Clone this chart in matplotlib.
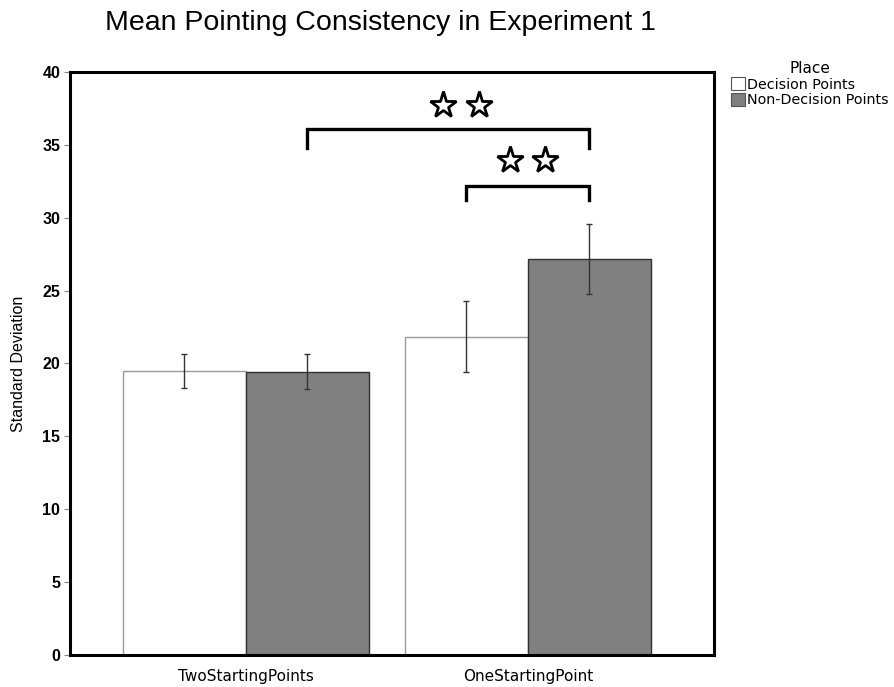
import matplotlib
matplotlib.use('Agg')
from matplotlib import pyplot as plt
from matplotlib.patches import Patch

categories = ['TwoStartingPoints', 'OneStartingPoint']
places = ['Decision Points', 'Non-Decision Points']
decision = [19.5, 21.85]
decision_err = [1.17, 2.42]
non_decision = [19.45, 27.15]
non_decision_err = [1.2, 2.4]
yticks = [0, 5, 10, 15, 20, 25, 30, 35, 40]

fig = plt.figure(figsize=(8.94, 6.87), dpi=100)
ax = fig.add_axes([0.0783, 0.0466, 0.7204, 0.8486])

w = 0.436
x = [0, 1]
x1 = [i - w / 2 for i in x]
x2 = [i + w / 2 for i in x]
ax.bar(x1, decision, width=w, color='white', edgecolor='#9a9a9a', linewidth=1.0, zorder=2)
ax.bar(x2, non_decision, width=w, color='#808080', edgecolor='#303030', linewidth=1.0, zorder=2)
ax.errorbar(x1, decision, yerr=decision_err, fmt='none', ecolor='#333333',
            elinewidth=1.0, capsize=2.5, capthick=1.0, zorder=3)
ax.errorbar(x2, non_decision, yerr=non_decision_err, fmt='none', ecolor='#333333',
            elinewidth=1.0, capsize=2.5, capthick=1.0, zorder=3)

ax.set_xlim(-0.624, 1.660)
ax.set_ylim(0, 40)
ax.set_yticks(yticks)
ax.set_yticklabels([str(t) for t in yticks], fontweight='bold', fontsize=11.5,
                   family='Liberation Sans')
ax.tick_params(axis='y', length=4, width=0.8, color='#888888', pad=3)
ax.set_xticks(x)
ax.set_xticklabels(categories, fontsize=11, family=['Liberation Sans Narrow', 'DejaVu Sans'])
ax.tick_params(axis='x', length=0, pad=10)
for s in ax.spines.values():
    s.set_linewidth(2.2)
    s.set_color('black')
ax.set_ylabel('Standard Deviation', fontsize=11.5, family='Liberation Sans', labelpad=12)

# significance brackets
def bracket(xa, xb, ytop, ybot, ystar, xs):
    ax.plot([xa, xa, xb, xb], [ybot, ytop, ytop, ybot], color='black', lw=2.4,
            solid_joinstyle='miter', clip_on=False, zorder=4)
    ax.plot([xs - 0.063, xs + 0.063], [ystar, ystar], linestyle='none', marker='*',
            markersize=20, markerfacecolor='white', markeredgecolor='black',
            markeredgewidth=2.0, clip_on=False, zorder=4)

bracket(x2[0], x2[1], 36.1, 34.8, 37.75, 0.762)
bracket(x1[1], x2[1], 32.2, 31.2, 33.95, 0.998)

fig.text(380 / 894, 1 - 23 / 687, 'Mean Pointing Consistency in Experiment 1',
         ha='center', va='center', fontsize=20.5, family='Liberation Sans')

handles = [Patch(facecolor='white', edgecolor='#555555', linewidth=0.8),
           Patch(facecolor='#808080', edgecolor='#555555', linewidth=0.8)]
leg = fig.legend(handles, places, title='Place', loc='upper left',
                 bbox_to_anchor=(731 / 894, 1 - 61 / 687), frameon=False,
                 handlelength=0.95, handleheight=1.0, handletextpad=0.2,
                 labelspacing=0.1, borderpad=0, borderaxespad=0,
                 prop={'family': 'DejaVu Sans', 'size': 10.3}, title_fontsize=11)

plt.savefig('out.png', dpi=100)
